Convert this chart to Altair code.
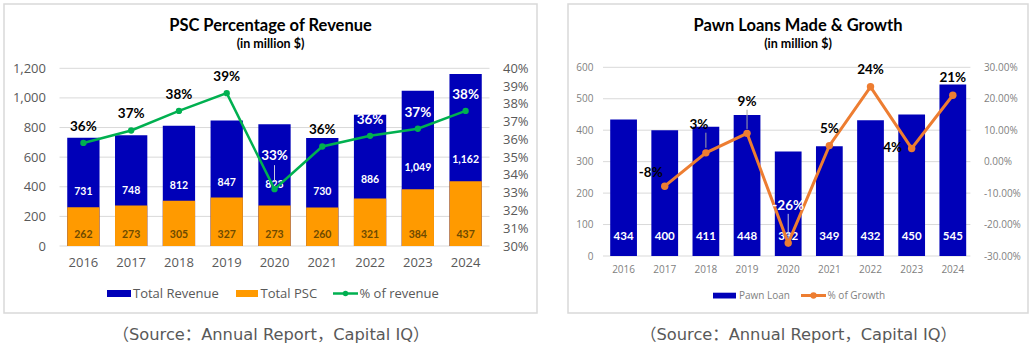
import altair as alt
import pandas as pd

# ---------------- data ----------------
years = [2016, 2017, 2018, 2019, 2020, 2021, 2022, 2023, 2024]
total_revenue = [731, 748, 812, 847, 823, 730, 886, 1049, 1162]
total_psc = [262, 273, 305, 327, 273, 260, 321, 384, 437]
psc_pct = [35.8, 36.5, 37.6, 38.6, 33.2, 35.6, 36.2, 36.6, 37.6]

pawn_loans = [434, 400, 411, 448, 332, 349, 432, 450, 545]
loan_growth = [None, -7.8, 2.8, 9.0, -25.9, 5.1, 23.8, 4.2, 21.1]

left_ticks = [0, 200, 400, 600, 800, 1000, 1200]
left_pct_ticks = [30, 31, 32, 33, 34, 35, 36, 37, 38, 39, 40]
right_ticks = [0, 100, 200, 300, 400, 500, 600]
right_pct_ticks = [-30, -20, -10, 0, 10, 20, 30]

left_df = pd.DataFrame({"year": years, "revenue": total_revenue, "psc": total_psc, "pct": psc_pct})
right_df = pd.DataFrame({"year": years, "loan": pawn_loans, "growth": loan_growth})

BLUE = "#0000B8"
ORANGE_BAR = "#FF9A00"
GREEN = "#00B050"
ORANGE_LINE = "#ED7D31"
GRID = "#D9D9D9"
AXIS_TXT = "#595959"
LABEL_FONT = "Lato"
TICK_FONT = "Open Sans"

W, H = 1036, 350

# ---------------- left chart ----------------
L0, L1 = 59.5, 489.5
L_BOTTOM, L_TOP = 246, 68.3

xsL = alt.Scale(range=[L0, L1], paddingInner=0.324, paddingOuter=0.162)
axXL = alt.Axis(orient="bottom", offset=L_BOTTOM - H, title=None, domain=False, ticks=False,
                grid=False, labelAngle=0, labelPadding=10, labelFont=TICK_FONT,
                labelFontSize=13, labelColor=AXIS_TXT)
ysL = alt.Scale(domain=[0, 1200], range=[L_BOTTOM, L_TOP], nice=False, zero=True)
ayL = alt.Axis(orient="left", offset=-L0, title=None, domain=False, ticks=False, grid=False,
               values=left_ticks, format=",d", labelPadding=14, labelFont=TICK_FONT,
               labelFontSize=13, labelColor=AXIS_TXT)
ysLp = alt.Scale(domain=[30, 40], range=[L_BOTTOM, L_TOP], nice=False, zero=False)
ayLp = alt.Axis(orient="right", offset=L1 - W, title=None, domain=False, ticks=False, grid=False,
                values=left_pct_ticks, labelExpr="datum.value + '%'", labelPadding=13,
                labelFont=TICK_FONT, labelFontSize=13, labelColor=AXIS_TXT)

xL = alt.X("year:O", scale=xsL, axis=axXL)

gridL = alt.Chart(pd.DataFrame({"v": left_ticks})).mark_rule(color=GRID, strokeWidth=1).encode(
    y=alt.Y("v:Q", scale=ysL, axis=ayL), x=alt.value(L0), x2=alt.value(L1))

revBars = alt.Chart(left_df).mark_bar(color=BLUE).encode(
    x=xL, y=alt.Y("revenue:Q", scale=ysL, axis=ayL))
pscBars = alt.Chart(left_df).mark_bar(color=ORANGE_BAR).encode(
    x=xL, y=alt.Y("psc:Q", scale=ysL, axis=ayL))
revLabels = alt.Chart(left_df).transform_calculate(mid="datum.revenue / 2").mark_text(
    font=LABEL_FONT, fontWeight="bold", fontSize=10.5, color="white", baseline="middle").encode(
    x=xL, y=alt.Y("mid:Q", scale=ysL, axis=ayL), text=alt.Text("revenue:Q", format=",d"))
pscLabels = alt.Chart(left_df).transform_calculate(base="0").mark_text(
    font=LABEL_FONT, fontWeight="bold", fontSize=10.5, color="#6E4A00", baseline="middle", dy=-11).encode(
    x=xL, y=alt.Y("base:Q", scale=ysL, axis=ayL), text=alt.Text("psc:Q", format="d"))

left_bars = alt.layer(gridL, revBars, pscBars, revLabels, pscLabels)

pctL = alt.Y("pct:Q", scale=ysLp, axis=ayLp)
lineL = alt.Chart(left_df).mark_line(color=GREEN, strokeWidth=2.5).encode(x=xL, y=pctL)
ptsL = alt.Chart(left_df).mark_circle(color=GREEN, size=40, opacity=1).encode(x=xL, y=pctL)

LAB_EXPR_L = "round(datum.pct) + '%'"


def left_label(test, dy, color):
    return alt.Chart(left_df).transform_filter(test).transform_calculate(lab=LAB_EXPR_L).mark_text(
        font=LABEL_FONT, fontWeight="bold", fontSize=13.5, color=color, baseline="middle", dy=dy).encode(
        x=xL, y=pctL, text="lab:N")


leaderL = alt.Chart(left_df).transform_filter("datum.year == 2020").transform_calculate(
    a="datum.pct + 0.4", b="datum.pct + 1.35").mark_rule(color="#C8C8E0", strokeWidth=1).encode(
    x=xL, y=alt.Y("a:Q", scale=ysLp, axis=ayLp), y2="b:Q")

left_line = alt.layer(
    lineL, leaderL, ptsL,
    left_label("datum.year <= 2019 || datum.year == 2021", -16, "black"),
    left_label("datum.year >= 2022", -16, "white"),
    left_label("datum.year == 2020", -33, "white"),
)

left = alt.layer(left_bars, left_line).resolve_scale(y="independent")

# ---------------- right chart ----------------
R0, R1 = 603, 973.4
R_BOTTOM, R_TOP = 256, 67.3
R_TXT = "#7F7F7F"

xsR = alt.Scale(range=[R0, R1], paddingInner=0.35, paddingOuter=0.175)
axXR = alt.Axis(orient="bottom", offset=R_BOTTOM - H, title=None, domain=False, ticks=False,
                grid=False, labelAngle=0, labelPadding=8, labelFont=TICK_FONT,
                labelFontSize=10, labelColor=R_TXT)
ysR = alt.Scale(domain=[0, 600], range=[R_BOTTOM, R_TOP], nice=False, zero=True)
ayR = alt.Axis(orient="left", offset=-R0, title=None, domain=False, ticks=False, grid=False,
               values=right_ticks, format="d", labelPadding=10, labelFont=TICK_FONT, labelFontSize=10,
               labelColor=R_TXT)
ysRp = alt.Scale(domain=[-30, 30], range=[R_BOTTOM, R_TOP], nice=False, zero=False)
ayRp = alt.Axis(orient="right", offset=R1 - W, title=None, domain=False, ticks=False, grid=False,
                values=right_pct_ticks,
                labelExpr="(datum.value < 0 ? '-' : '') + format(abs(datum.value), '.2f') + '%'",
                labelPadding=10, labelFont=TICK_FONT, labelFontSize=10, labelColor=R_TXT)

xR = alt.X("year:O", scale=xsR, axis=axXR)

gridR = alt.Chart(pd.DataFrame({"v": right_ticks})).mark_rule(color=GRID, strokeWidth=1).encode(
    y=alt.Y("v:Q", scale=ysR, axis=ayR), x=alt.value(R0), x2=alt.value(R1 - 3))
loanBars = alt.Chart(right_df).mark_bar(color=BLUE).encode(
    x=xR, y=alt.Y("loan:Q", scale=ysR, axis=ayR))
loanLabels = alt.Chart(right_df).transform_calculate(base="0").mark_text(
    font=LABEL_FONT, fontWeight="bold", fontSize=11.5, color="white", baseline="middle", dy=-19).encode(
    x=xR, y=alt.Y("base:Q", scale=ysR, axis=ayR), text=alt.Text("loan:Q", format="d"))

right_bars = alt.layer(gridR, loanBars, loanLabels)

gR = alt.Y("growth:Q", scale=ysRp, axis=ayRp)
valid = "isValid(datum.growth)"
lineR = alt.Chart(right_df).transform_filter(valid).mark_line(color=ORANGE_LINE, strokeWidth=3).encode(x=xR, y=gR)
ptsR = alt.Chart(right_df).transform_filter(valid).mark_circle(color=ORANGE_LINE, size=55, opacity=1).encode(x=xR, y=gR)

LAB_EXPR_R = "(datum.growth < 0 ? '-' : '') + abs(round(datum.growth)) + '%'"


def right_label(test, dx, dy, color="black"):
    return alt.Chart(right_df).transform_filter(valid).transform_filter(test).transform_calculate(
        lab=LAB_EXPR_R).mark_text(font=LABEL_FONT, fontWeight="bold", fontSize=13.5, color=color,
                                  baseline="middle", dx=dx, dy=dy).encode(x=xR, y=gR, text="lab:N")


def right_leader(year, a, b, color):
    return alt.Chart(right_df).transform_filter(f"datum.year == {year}").transform_calculate(
        a=f"datum.growth + {a}", b=f"datum.growth + {b}").mark_rule(color=color, strokeWidth=1).encode(
        x=xR, y=alt.Y("a:Q", scale=ysRp, axis=ayRp), y2="b:Q")


right_line = alt.layer(
    lineR,
    right_leader(2018, 1.6, 6.4, "#A6A6A6"),
    right_leader(2019, 1.4, 7.5, "#A6A6A6"),
    right_leader(2020, 1.6, 9.3, "#C8C8E0"),
    ptsR,
    right_label("datum.year == 2021 || datum.year == 2022 || datum.year == 2024", 0, -17),
    right_label("datum.year == 2017", -14, -13),
    right_label("datum.year == 2023", -19, 0),
    right_label("datum.year == 2018", -7, -28),
    right_label("datum.year == 2019", 0, -31),
    right_label("datum.year == 2020", 0, -37, "white"),
)

right = alt.layer(right_bars, right_line).resolve_scale(y="independent")

# ---------------- decorations (frames, titles, legends, sources) ----------------
one = pd.DataFrame({"d": [0]})


def frame(x0, x1, y0, y1):
    return alt.Chart(one).mark_rect(fillOpacity=0, stroke=GRID, strokeWidth=1.5).encode(
        x=alt.value(x0), x2=alt.value(x1), y=alt.value(y0), y2=alt.value(y1))


def txt(s, x, y, size, weight="normal", color="black", font=LABEL_FONT, align="center"):
    return alt.Chart(one).mark_text(fontSize=size, fontWeight=weight, color=color, font=font,
                                    align=align, baseline="middle").encode(
        x=alt.value(x), y=alt.value(y), text=alt.value(s))


def swatch(x0, x1, y0, y1, color):
    return alt.Chart(one).mark_rect(color=color).encode(
        x=alt.value(x0), x2=alt.value(x1), y=alt.value(y0), y2=alt.value(y1))


def line_sym(x0, x1, y, color, width, size):
    seg = alt.Chart(one).mark_rule(color=color, strokeWidth=width).encode(
        x=alt.value(x0), x2=alt.value(x1), y=alt.value(y))
    dot = alt.Chart(one).mark_circle(color=color, size=size, opacity=1).encode(
        x=alt.value((x0 + x1) / 2), y=alt.value(y))
    return alt.layer(seg, dot)


frames = alt.layer(frame(4, 537, 4, 313), frame(568, 1028, 4, 313))

SRC = "（Source：Annual Report，Capital IQ）"
SRC_FONT = "DejaVu Sans, Noto Sans CJK SC"

deco = alt.layer(
    txt("PSC Percentage of Revenue", 270.5, 26, 16.5, "bold"),
    txt("(in million $)", 270.5, 43.5, 12.5, "bold"),
    txt("Pawn Loans Made & Growth", 798, 26, 16.5, "bold"),
    txt("(in million $)", 798, 43.5, 12.5, "bold"),
    swatch(107, 131, 290, 297, BLUE),
    txt("Total Revenue", 133, 293.5, 13, color=AXIS_TXT, font=TICK_FONT, align="left"),
    swatch(236, 258, 290, 297, ORANGE_BAR),
    txt("Total PSC", 260.5, 293.5, 13, color=AXIS_TXT, font=TICK_FONT, align="left"),
    line_sym(333, 358, 293.5, GREEN, 2.5, 30),
    txt("% of revenue", 359.5, 293.5, 13, color=AXIS_TXT, font=TICK_FONT, align="left"),
    swatch(713, 736, 292.7, 298.5, BLUE),
    txt("Pawn Loan", 739, 295.5, 10, color=R_TXT, font=TICK_FONT, align="left"),
    line_sym(801, 826, 295.5, ORANGE_LINE, 3, 40),
    txt("% of Growth", 827.5, 295.5, 10, color=R_TXT, font=TICK_FONT, align="left"),
    txt(SRC, 271, 335, 16.3, color=AXIS_TXT, font=SRC_FONT),
    txt(SRC, 798.5, 335, 16.3, color=AXIS_TXT, font=SRC_FONT),
)

chart = alt.layer(frames, left, right, deco).resolve_scale(
    x="independent", y="independent"
).properties(
    width=W, height=H, autosize=alt.AutoSizeParams(type="none"), padding=0,
    background="white"
).configure_view(stroke=None)

chart.save("out.html", embed_options={"renderer": "svg", "actions": False})
